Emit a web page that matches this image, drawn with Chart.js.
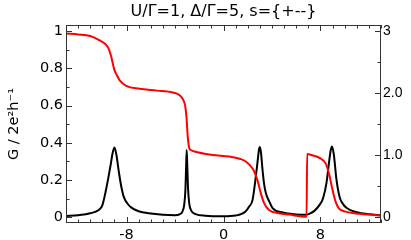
<!DOCTYPE html>
<html><head><meta charset="utf-8">
<script src="https://cdn.jsdelivr.net/npm/chart.js@4/dist/chart.umd.min.js"></script>
<style>html,body{margin:0;padding:0;background:#fff;}canvas{display:block;}</style>
</head><body>
<canvas id="c" width="411" height="240"></canvas>
<script>
const titleText = 'U/Γ=1, Δ/Γ=5, s={+--}';
const yLeftTitle = 'G / 2e²h⁻¹';
const xTickValues = [-8, 0, 8];
const xTickLabels = ['-8', '0', '8'];
const yLeftTickValues = [0, 0.2, 0.4, 0.6, 0.8, 1];
const yLeftTickLabels = ['0', '0.2', '0.4', '0.6', '0.8', '1'];
const yRightTickValues = [0, 1, 2, 3];
const yRightTickLabels = ['0', '1.0', '2.0', '3'];

// black curve: conductance G (left axis)
const xBlack = [-13,-12,-11,-10.3,-10,-9.73,-9.5,-9.32,-9.15,-9,-8.85,-8.64,-8.45,-8.23,-7.9,-7.54,-7,-6.17,-5,-4,-3.6,-3.4,-3.25,-3.15,-3.09,-3.04,-2.99,-2.93,-2.83,-2.65,-2.3,-1.5,0,1,1.8,2.12,2.4,2.7,2.83,2.92,3,3.1,3.2,3.35,3.5,3.78,4.05,4.9,6,6.8,7.1,7.5,7.93,8.22,8.5,8.7,8.85,8.95,9.1,9.33,9.6,9.8,10.17,11,12,13];
const gBlack = [0.008,0.012,0.022,0.04,0.065,0.138,0.215,0.28,0.345,0.375,0.34,0.245,0.17,0.11,0.072,0.05,0.033,0.022,0.014,0.012,0.018,0.03,0.065,0.14,0.26,0.362,0.28,0.16,0.075,0.035,0.018,0.009,0.006,0.01,0.03,0.058,0.094,0.237,0.31,0.36,0.378,0.345,0.27,0.18,0.13,0.085,0.05,0.026,0.016,0.014,0.02,0.035,0.067,0.103,0.185,0.29,0.36,0.38,0.34,0.2,0.105,0.078,0.05,0.028,0.017,0.012];

// red curve: occupation (right axis)
const xRed = [-13,-12,-11,-10.23,-9.68,-9.45,-9.27,-9.0,-8.78,-8.58,-8.03,-6.94,-5.5,-4.2,-3.65,-3.32,-3.15,-3.05,-2.96,-2.88,-2.82,-2.6,-2.41,-0.9,0.47,1.4,1.84,2.39,2.6,2.8,3.08,3.35,3.76,4.58,5.4,6.86,6.9,7.33,8.0,8.43,8.7,8.97,9.25,9.52,10.07,11.17,12,13];
const nRed = [2.96,2.945,2.92,2.85,2.775,2.7,2.59,2.37,2.28,2.21,2.115,2.07,2.04,2.01,1.97,1.89,1.78,1.6,1.32,1.17,1.11,1.075,1.06,1.005,0.98,0.94,0.9,0.79,0.71,0.6,0.39,0.23,0.12,0.066,0.045,0.012,1.02,1.0,0.95,0.87,0.71,0.47,0.255,0.147,0.093,0.057,0.045,0.03];

const FONT = "'DejaVu Sans', Verdana, sans-serif";
const NARROW = "'Liberation Sans Narrow', 'Arial Narrow', 'Liberation Sans', sans-serif";

const inwardTicks = {
  id: 'inwardTicks',
  afterDatasetsDraw(chart) {
    const {ctx, chartArea: a, scales} = chart;
    const X = scales.x, L = scales.y, R = scales.y1;
    const major = 6, minor = 3.5;
    ctx.save();
    ctx.strokeStyle = '#333';
    ctx.lineWidth = 1;
    const seg = (x1, y1, x2, y2) => { ctx.beginPath(); ctx.moveTo(x1, y1); ctx.lineTo(x2, y2); ctx.stroke(); };
    for (let v = -13; v <= 13; v++) {
      const px = Math.round(X.getPixelForValue(v)) + 0.5;
      const len = (v % 8 === 0) ? major : minor;
      seg(px, a.bottom, px, a.bottom - len);
      seg(px, a.top, px, a.top + len);
    }
    for (let i = 0; i <= 10; i++) {
      const v = i / 10;
      const py = Math.round(L.getPixelForValue(v)) + 0.5;
      seg(a.left, py, a.left + (i % 2 === 0 ? major : minor), py);
    }
    for (let i = 0; i <= 6; i++) {
      const v = i / 2;
      const py = Math.round(R.getPixelForValue(v)) + 0.5;
      seg(a.right, py, a.right - (i % 2 === 0 ? major : minor), py);
    }
    ctx.strokeRect(a.left + 0.5, a.top + 0.5, a.right - a.left - 1, a.bottom - a.top - 1);
    ctx.restore();
  }
};

new Chart(document.getElementById('c'), {
  type: 'line',
  data: {
    datasets: [
      {
        label: 'n',
        data: xRed.map((x, i) => ({x: x, y: nRed[i]})),
        yAxisID: 'y1',
        borderColor: '#ff0000',
        borderWidth: 2,
        pointRadius: 0,
        cubicInterpolationMode: 'monotone',
        fill: false
      },
      {
        label: 'G',
        data: xBlack.map((x, i) => ({x: x, y: gBlack[i]})),
        yAxisID: 'y',
        borderColor: '#000000',
        borderWidth: 2,
        pointRadius: 0,
        cubicInterpolationMode: 'monotone',
        fill: false
      }
    ]
  },
  options: {
    responsive: false,
    animation: false,
    layout: {padding: 0},
    plugins: {
      legend: {display: false},
      tooltip: {enabled: false},
      title: {
        display: true,
        fullSize: false,
        text: titleText,
        color: '#000',
        font: {family: FONT, size: 16, weight: 'normal'},
        padding: {top: 2, bottom: 3.8}
      }
    },
    scales: {
      x: {
        type: 'linear',
        min: -13, max: 13,
        grid: {display: false, drawTicks: false},
        border: {display: false},
        afterBuildTicks: s => { s.ticks = xTickValues.map(v => ({value: v})); },
        afterFit: s => { s.height = 17; },
        ticks: {
          color: '#000', padding: 4, maxRotation: 0, autoSkip: false,
          font: {family: FONT, size: 14.5},
          callback: (v, i) => xTickLabels[i]
        }
      },
      y: {
        type: 'linear', position: 'left',
        min: -0.03, max: 1.032,
        grid: {display: false, drawTicks: false},
        border: {display: false},
        afterBuildTicks: s => { s.ticks = yLeftTickValues.map(v => ({value: v})); },
        afterFit: s => { s.width = 66; },
        ticks: {
          color: '#000', padding: 3, autoSkip: false,
          font: {family: FONT, size: 14.5},
          callback: (v, i) => yLeftTickLabels[i]
        },
        title: {
          display: true, text: yLeftTitle, color: '#000',
          font: {family: FONT, size: 14.5},
          padding: {top: 6, bottom: 0}
        }
      },
      y1: {
        type: 'linear', position: 'right',
        min: -0.09, max: 3.096,
        grid: {display: false, drawTicks: false},
        border: {display: false},
        afterBuildTicks: s => { s.ticks = yRightTickValues.map(v => ({value: v})); },
        afterFit: s => { s.width = 30; },
        ticks: {
          color: '#000', padding: 2, autoSkip: false,
          font: {family: NARROW, size: 14},
          callback: (v, i) => yRightTickLabels[i]
        }
      }
    }
  },
  plugins: [inwardTicks]
});
</script>
</body></html>
